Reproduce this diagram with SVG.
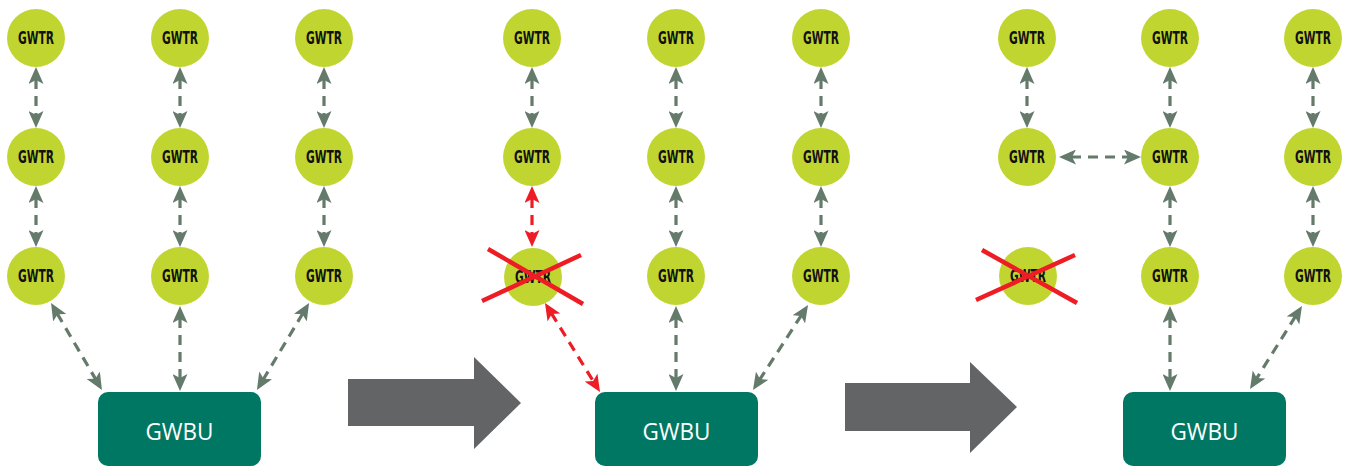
<svg xmlns="http://www.w3.org/2000/svg" width="1350" height="468" viewBox="0 0 1350 468">
  <style>
    .tr circle { fill: #c1d530; }
    .tr text { font-family: "DejaVu Sans Condensed", "DejaVu Sans", sans-serif; font-stretch: condensed; font-weight: bold; font-size: 17px; fill: #111; text-anchor: middle; }
    .bu rect { fill: #007763; }
    .bu text { font-family: "Open Sans", "Liberation Sans", sans-serif; font-size: 24px; fill: #fff; text-anchor: middle; }
    .link { stroke: #647a6b; stroke-width: 3.2; stroke-dasharray: 10 7; fill: none; marker-start: url(#hg); marker-end: url(#hg); }
    .link.fail { stroke: #ee1c25; marker-start: url(#hr); marker-end: url(#hr); }
    .cross line { stroke: #ee1c25; stroke-width: 4.5; }
    .step { fill: #636466; }
  </style>
  <defs>
    <marker id="hg" viewBox="0 0 17 15" markerWidth="17" markerHeight="15" refX="5" refY="7.5" markerUnits="userSpaceOnUse" orient="auto-start-reverse">
      <path d="M0,0 L17,7.5 L0,15 L4,7.5 z" fill="#647a6b"/>
    </marker>
    <marker id="hr" viewBox="0 0 17 15" markerWidth="17" markerHeight="15" refX="5" refY="7.5" markerUnits="userSpaceOnUse" orient="auto-start-reverse">
      <path d="M0,0 L17,7.5 L0,15 L4,7.5 z" fill="#ee1c25"/>
    </marker>
  </defs>

  <!-- connectors -->
  <g id="connectors">
    <!-- stage 1 -->
    <line class="link" x1="36" y1="79" x2="36" y2="116"/>
    <line class="link" x1="36" y1="198" x2="36" y2="235"/>
    <line class="link" x1="180" y1="79" x2="180" y2="116"/>
    <line class="link" x1="180" y1="198" x2="180" y2="235"/>
    <line class="link" x1="180" y1="318" x2="180" y2="379"/>
    <line class="link" x1="324" y1="79" x2="324" y2="116"/>
    <line class="link" x1="324" y1="198" x2="324" y2="235"/>
    <line class="link" x1="57.1" y1="313.4" x2="95.9" y2="379.6"/>
    <line class="link" x1="302.9" y1="313.3" x2="263.1" y2="379.7"/>
    <!-- stage 2 -->
    <line class="link" x1="532" y1="79" x2="532" y2="116"/>
    <line class="link fail" x1="532" y1="198" x2="532" y2="235"/>
    <line class="link fail" x1="551.3" y1="313.2" x2="593.7" y2="381.8"/>
    <line class="link" x1="676" y1="79" x2="676" y2="116"/>
    <line class="link" x1="676" y1="198" x2="676" y2="235"/>
    <line class="link" x1="676" y1="318" x2="676" y2="379"/>
    <line class="link" x1="821" y1="79" x2="821" y2="116"/>
    <line class="link" x1="821" y1="198" x2="821" y2="235"/>
    <line class="link" x1="801.5" y1="315.1" x2="759.5" y2="379.9"/>
    <!-- stage 3 -->
    <line class="link" x1="1027" y1="79" x2="1027" y2="116"/>
    <line class="link" x1="1071" y1="157" x2="1129" y2="157"/>
    <line class="link" x1="1170" y1="79" x2="1170" y2="116"/>
    <line class="link" x1="1170" y1="198" x2="1170" y2="235"/>
    <line class="link" x1="1170" y1="318" x2="1170" y2="379"/>
    <line class="link" x1="1313" y1="79" x2="1313" y2="116"/>
    <line class="link" x1="1313" y1="198" x2="1313" y2="235"/>
    <line class="link" x1="1295.6" y1="316.2" x2="1256.4" y2="378.8"/>
  </g>

  <!-- stage 1 nodes -->
  <g id="s1-a1" class="tr"><circle cx="36" cy="38" r="29"/><text x="36" y="44" textLength="36" lengthAdjust="spacingAndGlyphs">GWTR</text></g>
  <g id="s1-a2" class="tr"><circle cx="36" cy="157" r="29"/><text x="36" y="163" textLength="36" lengthAdjust="spacingAndGlyphs">GWTR</text></g>
  <g id="s1-a3" class="tr"><circle cx="36" cy="276" r="29"/><text x="36" y="282" textLength="36" lengthAdjust="spacingAndGlyphs">GWTR</text></g>
  <g id="s1-b1" class="tr"><circle cx="180" cy="38" r="29"/><text x="180" y="44" textLength="36" lengthAdjust="spacingAndGlyphs">GWTR</text></g>
  <g id="s1-b2" class="tr"><circle cx="180" cy="157" r="29"/><text x="180" y="163" textLength="36" lengthAdjust="spacingAndGlyphs">GWTR</text></g>
  <g id="s1-b3" class="tr"><circle cx="180" cy="276" r="29"/><text x="180" y="282" textLength="36" lengthAdjust="spacingAndGlyphs">GWTR</text></g>
  <g id="s1-c1" class="tr"><circle cx="324" cy="38" r="29"/><text x="324" y="44" textLength="36" lengthAdjust="spacingAndGlyphs">GWTR</text></g>
  <g id="s1-c2" class="tr"><circle cx="324" cy="157" r="29"/><text x="324" y="163" textLength="36" lengthAdjust="spacingAndGlyphs">GWTR</text></g>
  <g id="s1-c3" class="tr"><circle cx="324" cy="276" r="29"/><text x="324" y="282" textLength="36" lengthAdjust="spacingAndGlyphs">GWTR</text></g>
  <g id="s1-bu" class="bu"><rect x="98" y="392" width="163" height="74" rx="10"/><text x="179.5" y="440" textLength="68" lengthAdjust="spacingAndGlyphs">GWBU</text></g>

  <!-- step arrows -->
  <g id="step1"><path class="step" d="M348,379 H474 V357 L521,403 L474,449 V426 H348 Z"/></g>
  <g id="step2"><path class="step" d="M845,383 H970 V362 L1017,407 L970,453 V431 H845 Z"/></g>

  <!-- stage 2 nodes -->
  <g id="s2-a1" class="tr"><circle cx="532" cy="38" r="29"/><text x="532" y="44" textLength="36" lengthAdjust="spacingAndGlyphs">GWTR</text></g>
  <g id="s2-a2" class="tr"><circle cx="532" cy="157" r="29"/><text x="532" y="163" textLength="36" lengthAdjust="spacingAndGlyphs">GWTR</text></g>
  <g id="s2-a3" class="tr"><circle cx="533" cy="277" r="29"/><text x="533" y="283" textLength="36" lengthAdjust="spacingAndGlyphs">GWTR</text>
    <g class="cross"><line x1="488" y1="249" x2="583" y2="304"/><line x1="482" y1="301" x2="581" y2="255"/></g>
  </g>
  <g id="s2-b1" class="tr"><circle cx="676" cy="38" r="29"/><text x="676" y="44" textLength="36" lengthAdjust="spacingAndGlyphs">GWTR</text></g>
  <g id="s2-b2" class="tr"><circle cx="676" cy="157" r="29"/><text x="676" y="163" textLength="36" lengthAdjust="spacingAndGlyphs">GWTR</text></g>
  <g id="s2-b3" class="tr"><circle cx="676" cy="276" r="29"/><text x="676" y="282" textLength="36" lengthAdjust="spacingAndGlyphs">GWTR</text></g>
  <g id="s2-c1" class="tr"><circle cx="821" cy="38" r="29"/><text x="821" y="44" textLength="36" lengthAdjust="spacingAndGlyphs">GWTR</text></g>
  <g id="s2-c2" class="tr"><circle cx="821" cy="157" r="29"/><text x="821" y="163" textLength="36" lengthAdjust="spacingAndGlyphs">GWTR</text></g>
  <g id="s2-c3" class="tr"><circle cx="821" cy="276" r="29"/><text x="821" y="282" textLength="36" lengthAdjust="spacingAndGlyphs">GWTR</text></g>
  <g id="s2-bu" class="bu"><rect x="595" y="392" width="163" height="74" rx="10"/><text x="676.5" y="440" textLength="68" lengthAdjust="spacingAndGlyphs">GWBU</text></g>

  <!-- stage 3 nodes -->
  <g id="s3-a1" class="tr"><circle cx="1027" cy="38" r="29"/><text x="1027" y="44" textLength="36" lengthAdjust="spacingAndGlyphs">GWTR</text></g>
  <g id="s3-a2" class="tr"><circle cx="1027" cy="157" r="29"/><text x="1027" y="163" textLength="36" lengthAdjust="spacingAndGlyphs">GWTR</text></g>
  <g id="s3-a3" class="tr"><circle cx="1028" cy="276" r="29"/><text x="1028" y="282" textLength="36" lengthAdjust="spacingAndGlyphs">GWTR</text>
    <g class="cross"><line x1="982" y1="250" x2="1077" y2="303"/><line x1="976" y1="300" x2="1075" y2="255"/></g>
  </g>
  <g id="s3-b1" class="tr"><circle cx="1170" cy="38" r="29"/><text x="1170" y="44" textLength="36" lengthAdjust="spacingAndGlyphs">GWTR</text></g>
  <g id="s3-b2" class="tr"><circle cx="1170" cy="157" r="29"/><text x="1170" y="163" textLength="36" lengthAdjust="spacingAndGlyphs">GWTR</text></g>
  <g id="s3-b3" class="tr"><circle cx="1170" cy="276" r="29"/><text x="1170" y="282" textLength="36" lengthAdjust="spacingAndGlyphs">GWTR</text></g>
  <g id="s3-c1" class="tr"><circle cx="1313" cy="38" r="29"/><text x="1313" y="44" textLength="36" lengthAdjust="spacingAndGlyphs">GWTR</text></g>
  <g id="s3-c2" class="tr"><circle cx="1313" cy="157" r="29"/><text x="1313" y="163" textLength="36" lengthAdjust="spacingAndGlyphs">GWTR</text></g>
  <g id="s3-c3" class="tr"><circle cx="1313" cy="276" r="29"/><text x="1313" y="282" textLength="36" lengthAdjust="spacingAndGlyphs">GWTR</text></g>
  <g id="s3-bu" class="bu"><rect x="1123" y="392" width="163" height="74" rx="10"/><text x="1204.5" y="440" textLength="68" lengthAdjust="spacingAndGlyphs">GWBU</text></g>
</svg>
